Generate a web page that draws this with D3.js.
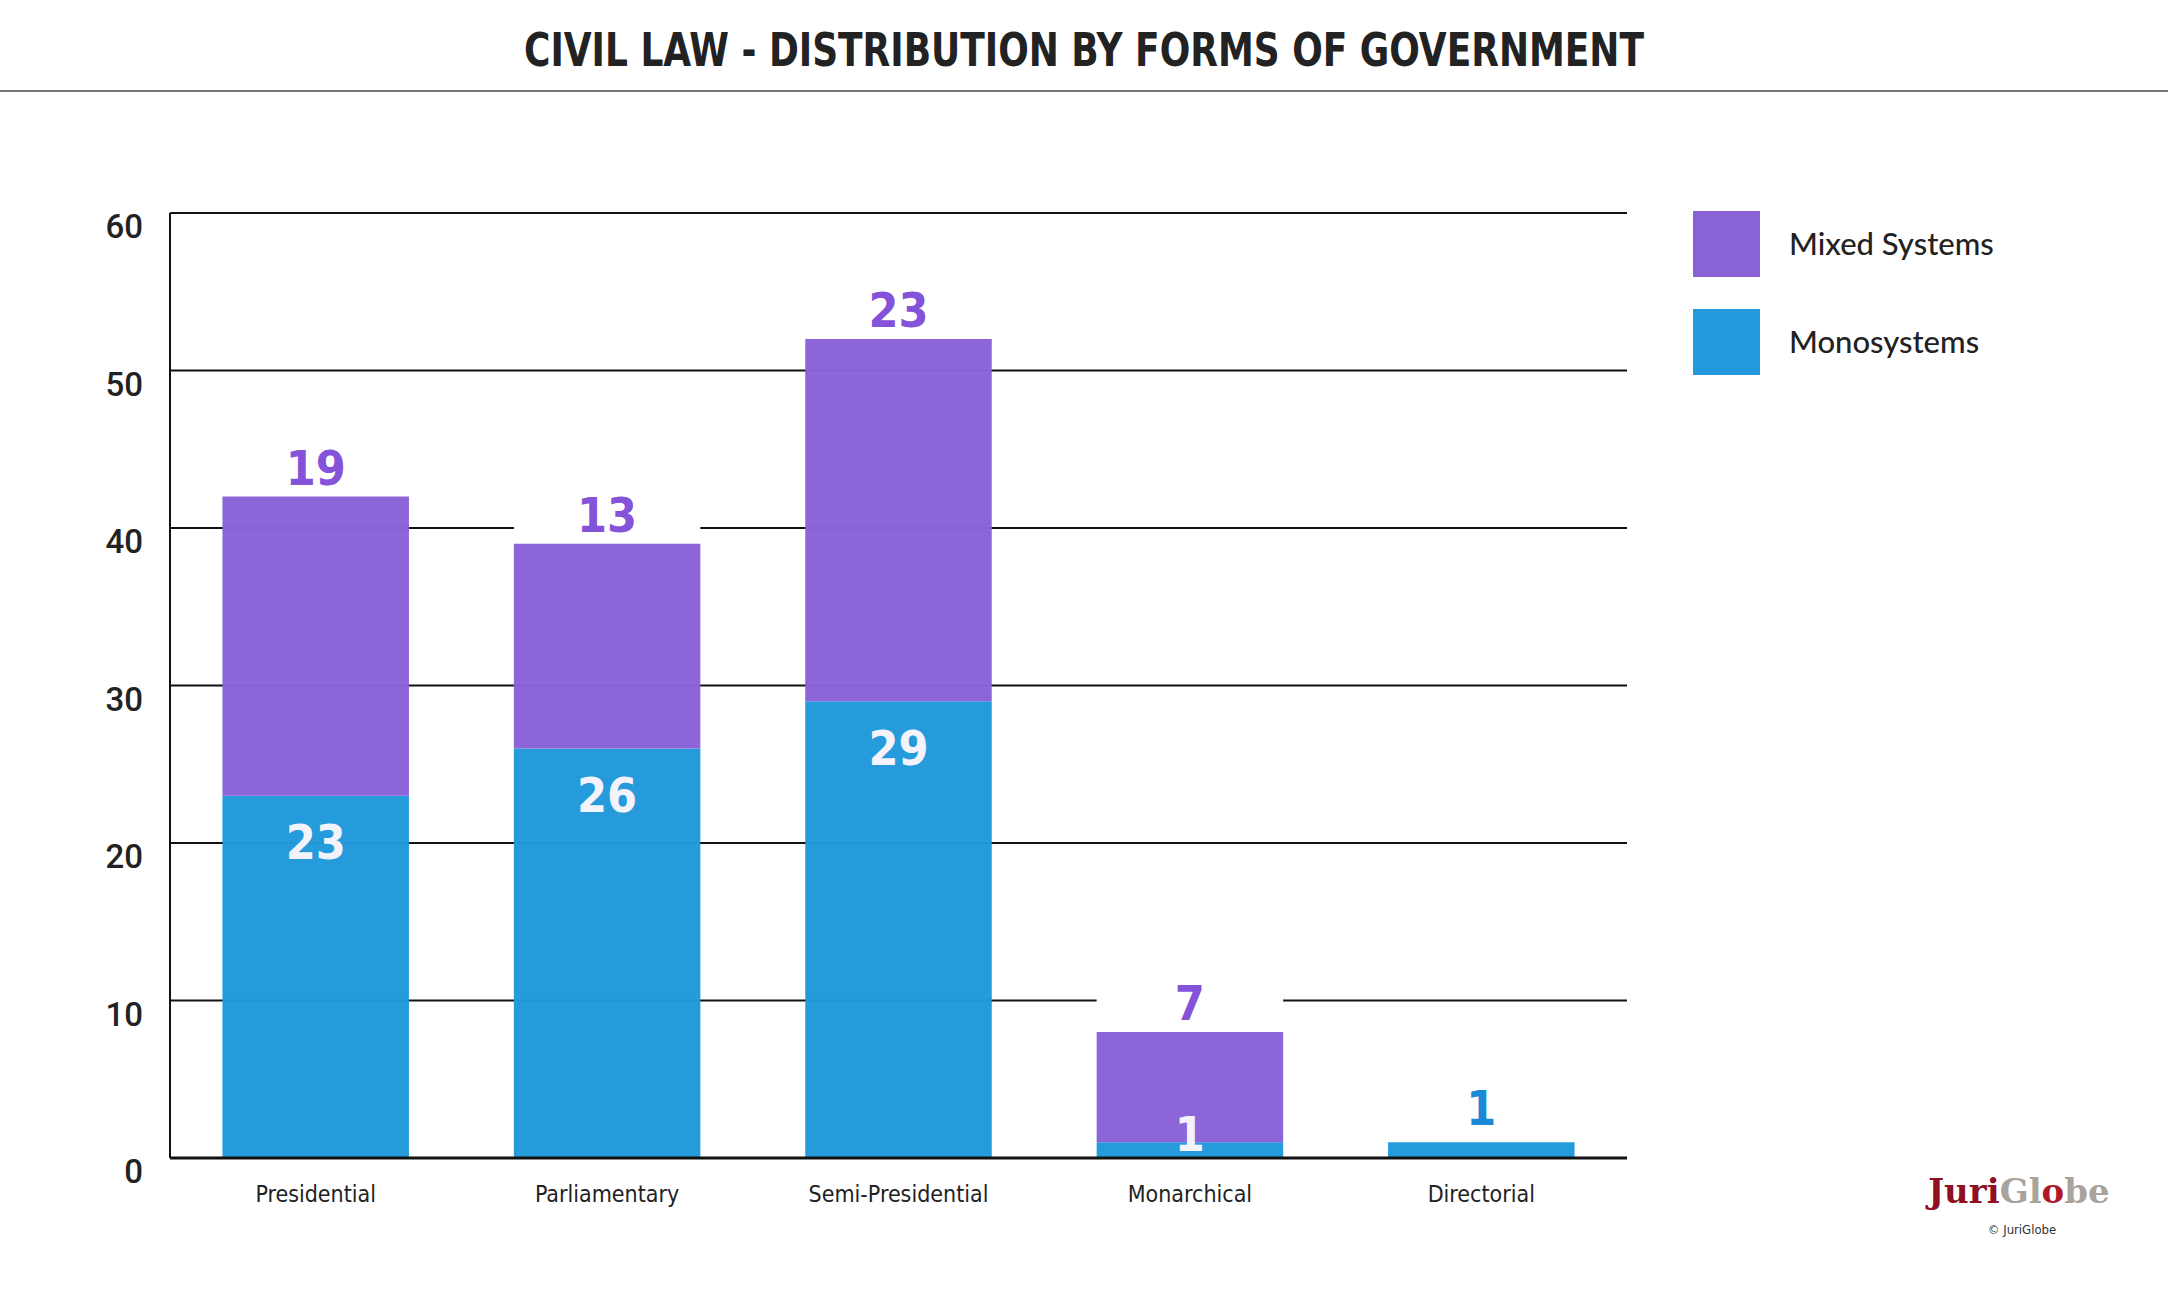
<!DOCTYPE html>
<html>
<head>
<meta charset="utf-8">
<script src="https://cdn.jsdelivr.net/npm/d3@7"></script>
<style>
  body { margin: 0; background: #fff; }
  svg { display: block; }
</style>
</head>
<body>
<svg width="2168" height="1300"></svg>
<script>
var categories = ["Presidential", "Parliamentary", "Semi-Presidential", "Monarchical", "Directorial"];
var monosystems = [23, 26, 29, 1, 1];
var mixedSystems = [19, 13, 23, 7, 0];
var yTicks = [0, 10, 20, 30, 40, 50, 60];
var seriesNames = ["Mixed Systems", "Monosystems"];

var svg = d3.select("svg"),
  margin = { top: 213, right: 541, bottom: 142, left: 170 },
  width = 2168 - margin.left - margin.right,
  height = 1300 - margin.top - margin.bottom;

var purple = "#8a62d7", blue = "#2299db";
var narrow = "'DejaVu Sans Condensed', 'Liberation Sans Narrow', sans-serif";

var rows = categories.map((c, i) => ({ cat: c, mono: monosystems[i], mixed: mixedSystems[i] }));

var x = d3.scaleBand().domain(categories).range([0, width]).paddingInner(0.36).paddingOuter(0.18),
  y = d3.scaleLinear().domain([0, 60]).range([height, 0]);

// title
svg.append("text")
  .attr("x", 1084).attr("y", 66)
  .attr("text-anchor", "middle")
  .attr("textLength", 1120)
  .attr("lengthAdjust", "spacingAndGlyphs")
  .style("font", "bold 47px " + narrow)
  .style("fill", "#222")
  .text("CIVIL LAW - DISTRIBUTION BY FORMS OF GOVERNMENT");

svg.append("line")
  .attr("x1", 0).attr("x2", 2168).attr("y1", 91).attr("y2", 91)
  .style("stroke", "#777").style("stroke-width", 2);

var g = svg.append("g").attr("transform", `translate(${margin.left},${margin.top})`);

// grid
g.selectAll(".grid")
  .data(yTicks.filter(d => d > 0))
  .enter().append("line")
  .attr("x1", 0).attr("x2", width)
  .attr("y1", d => y(d)).attr("y2", d => y(d))
  .style("stroke", "#111").style("stroke-width", 2);

g.append("line").attr("x1", 0).attr("x2", 0).attr("y1", 0).attr("y2", height)
  .style("stroke", "#111").style("stroke-width", 2);

// y labels
g.selectAll(".ytick")
  .data(yTicks)
  .enter().append("text")
  .attr("x", -27).attr("y", d => y(d) + 25)
  .attr("text-anchor", "end")
  .style("font", "500 33px Roboto, sans-serif")
  .style("fill", "#222")
  .text(d => d);

var bar = g.selectAll(".bar")
  .data(rows)
  .enter().append("g")
  .attr("transform", d => `translate(${x(d.cat)},0)`);

bar.append("rect")
  .attr("y", d => y(d.mono))
  .attr("width", x.bandwidth())
  .attr("height", d => y(0) - y(d.mono))
  .style("fill", blue).style("fill-opacity", 0.98);

bar.filter(d => d.mixed > 0).append("rect")
  .attr("y", d => y(d.mono + d.mixed))
  .attr("width", x.bandwidth())
  .attr("height", d => y(d.mono) - y(d.mono + d.mixed))
  .style("fill", purple).style("fill-opacity", 0.98);

g.append("line").attr("x1", 0).attr("x2", width).attr("y1", height).attr("y2", height)
  .style("stroke", "#111").style("stroke-width", 3);

// labels above bars (white box hides the grid line)
bar.append("rect")
  .attr("y", d => y(d.mono + d.mixed) - 58)
  .attr("width", x.bandwidth())
  .attr("height", 54)
  .style("fill", "#fff");

bar.append("text")
  .attr("x", x.bandwidth() / 2)
  .attr("y", d => y(d.mono + d.mixed) - (d.mixed > 0 ? 12 : 17))
  .attr("text-anchor", "middle")
  .style("font", "bold 48px " + narrow)
  .style("fill", d => d.mixed > 0 ? "#8453d9" : "#1a8ad6")
  .text(d => d.mixed > 0 ? d.mixed : d.mono);

// mono labels inside
bar.filter(d => d.mixed > 0).append("text")
  .attr("x", x.bandwidth() / 2)
  .attr("y", d => Math.min(y(d.mono) + 46, y(0) - 24))
  .attr("dy", "0.36em")
  .attr("text-anchor", "middle")
  .style("font", "bold 48px " + narrow)
  .style("fill", "#f4f2fb")
  .text(d => d.mono);

// x labels
g.selectAll(".xlab")
  .data(categories)
  .enter().append("text")
  .attr("x", d => x(d) + x.bandwidth() / 2)
  .attr("y", height + 44)
  .attr("text-anchor", "middle")
  .style("font", "23px " + narrow)
  .style("fill", "#222")
  .text(d => d);

// legend
var legend = svg.append("g").attr("transform", "translate(1693,211)");
var li = legend.selectAll(".li")
  .data(seriesNames)
  .enter().append("g")
  .attr("transform", (d, i) => `translate(0,${i * 98})`);
li.append("rect").attr("width", 67).attr("height", 66)
  .style("fill", (d, i) => i === 0 ? purple : blue);
li.append("text").attr("x", 96).attr("y", 44)
  .style("font", "500 31px Lato, sans-serif")
  .style("fill", "#222")
  .text(d => d);

// logo
var logo = svg.append("text")
  .attr("x", 1928).attr("y", 1203)
  .style("font", "bold 34px 'DejaVu Serif', serif");
logo.append("tspan").style("fill", "#8e1022").text("Juri");
logo.append("tspan").style("fill", "#a9a39b").text("Gl");
logo.append("tspan").style("fill", "#b0172b").text("o");
logo.append("tspan").style("fill", "#a9a39b").text("be");

svg.append("text")
  .attr("x", 2022).attr("y", 1234)
  .attr("text-anchor", "middle")
  .style("font", "13px " + narrow)
  .style("fill", "#333")
  .text("© JuriGlobe");
</script>
</body>
</html>
